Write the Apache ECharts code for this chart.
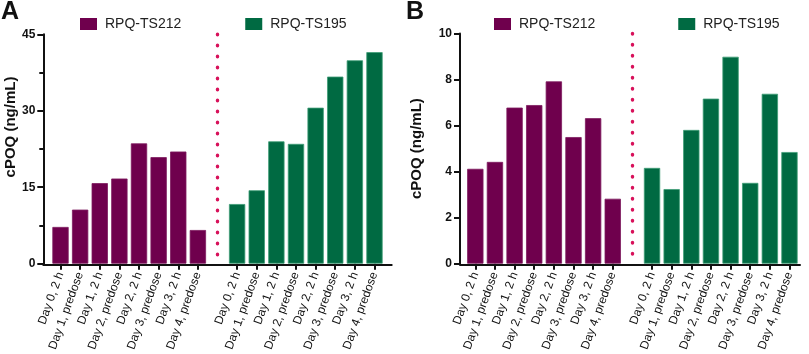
<!DOCTYPE html>
<html>
<head>
<meta charset="utf-8">
<script src="https://cdn.jsdelivr.net/npm/echarts@6/dist/echarts.min.js"></script>
<style>
html,body{margin:0;padding:0;background:#fff;}
#c{width:809px;height:354px;}
</style>
</head>
<body>
<div id="c"></div>
<script>
const categories = ['Day 0, 2 h','Day 1, predose','Day 1, 2 h','Day 2, predose','Day 2, 2 h','Day 3, predose','Day 3, 2 h','Day 4, predose'];
const seriesNames = ['RPQ-TS212','RPQ-TS195'];
const panelA_TS212 = [7.2, 10.6, 15.8, 16.7, 23.6, 20.9, 22.0, 6.6];
const panelA_TS195 = [11.7, 14.4, 24.0, 23.5, 30.6, 36.7, 39.9, 41.5];
const panelB_TS212 = [4.12, 4.42, 6.78, 6.89, 7.92, 5.50, 6.32, 2.82];
const panelB_TS195 = [4.16, 3.24, 5.81, 7.17, 8.99, 3.51, 7.38, 4.85];
const yMaxA = 45, yStepA = 15;
const yMaxB = 10, yStepB = 2;
const yTitle = 'cPOQ (ng/mL)';
const panelTitles = ['A','B'];

const PURPLE = '#6F004D', GREEN = '#006A42', DOT = '#D8115A';
const FONT = 'Liberation Sans, Arial, Helvetica, sans-serif';

// axis labels: 8 + gap + 8
const axisLabels = categories.concat([''], categories);
const axisKeys = axisLabels.map((_, i) => String(i));
const GAP = categories.length;
function padLeft(arr){ return arr.concat(new Array(categories.length + 1).fill(null)); }
function padRight(arr){ return new Array(categories.length + 1).fill(null).concat(arr); }

const chart = echarts.init(document.getElementById('c'), null, {renderer:'canvas'});

function catAxis(gridIndex){
  return {
    type:'category', gridIndex, data: axisKeys,
    axisLine:{show:false},
    axisTick:{show:true, alignWithLabel:true, length:6, interval:(i)=> i !== GAP,
      lineStyle:{color:'#111', width:2}},
    axisLabel:{interval:0, rotate:70, margin:9, fontSize:12, color:'#111', fontFamily:FONT,
      formatter:(v, i)=> axisLabels[i]}
  };
}
function valAxis(gridIndex, max, step, offset, nameGap, namePad, minor){
  return {
    type:'value', gridIndex, min:0, max, interval:step, offset,
    name: yTitle, nameLocation:'middle', nameGap,
    nameTextStyle:{fontSize:15, fontWeight:'bold', color:'#111', fontFamily:FONT, padding:namePad},
    axisLine:{show:true, lineStyle:{color:'#111', width:2}},
    axisTick:{show:true, length:6, lineStyle:{color:'#111', width:2}},
    minorTick: minor ? {show:true, splitNumber:2, length:4, lineStyle:{color:'#111', width:2}} : {show:false},
    splitLine:{show:false},
    axisLabel:{fontSize:12, fontWeight:'bold', color:'#111', margin:8, fontFamily:FONT}
  };
}
function lineX(gridIndex){
  return {type:'value', gridIndex, min:0, max:1, axisLine:{show:true, onZero:false, lineStyle:{color:'#111', width:2}},
    axisTick:{show:false}, axisLabel:{show:false}, splitLine:{show:false}};
}
function lineY(gridIndex){
  return {type:'value', gridIndex, min:0, max:1, show:false};
}
function dotLine(max){
  return {
    silent:true, symbol:['none','none'], label:{show:false},
    lineStyle:{color:DOT, width:3.4, type:[0.5, 10.5], cap:'round'},
    data:[[{coord:[GAP, max]}, {coord:[GAP, 0]}]]
  };
}
function bars(name, data, xi, color, border, ml){
  const s = {
    type:'bar', name, xAxisIndex:xi, yAxisIndex:xi, data, barWidth:16.3, barGap:'-100%',
    itemStyle:{color, borderColor:border, borderWidth:0.8},
    emphasis:{disabled:true}
  };
  if (ml) s.markLine = ml;
  return s;
}

const legendBase = {data:seriesNames, top:17, padding:0, itemWidth:17, itemHeight:12, icon:'rect',
  selectedMode:false, itemStyle:{borderWidth:0},
  textStyle:{fontSize:14, color:'#222', fontFamily:FONT, padding:[0,0,0,3]}};

const option = {
  animation:false,
  backgroundColor:'#fff',
  textStyle:{fontFamily:FONT},
  title:[
    {text:panelTitles[0], left:1, top:0, padding:0, textStyle:{fontSize:25, fontWeight:'bold', color:'#111', fontFamily:FONT}},
    {text:panelTitles[1], left:406, top:0, padding:0, textStyle:{fontSize:25, fontWeight:'bold', color:'#111', fontFamily:FONT}}
  ],
  legend:[
    Object.assign({}, legendBase, {left:80, itemGap:64}),
    Object.assign({}, legendBase, {left:494, itemGap:83})
  ],
  grid:[
    {left:50.7, width:333.6, top:34.3, bottom:89.7},
    {left:465.5, width:333.8, top:33.5, bottom:89.5},
    {left:43.3, width:348.4, top:34.3, bottom:89.7},
    {left:460, width:340, top:33.5, bottom:89.5}
  ],
  xAxis:[catAxis(0), catAxis(1), lineX(2), lineX(3)],
  yAxis:[
    valAxis(0, yMaxA, yStepA, 7.4, 23, [0,0,0,44], true),
    valAxis(1, yMaxB, yStepB, 5.5, 36, [0,0,0,0], false),
    lineY(2), lineY(3)
  ],
  series:[
    bars(seriesNames[0], padLeft(panelA_TS212), 0, PURPLE, '#7d1a5e', dotLine(yMaxA)),
    bars(seriesNames[1], padRight(panelA_TS195), 0, GREEN, '#3f9d76'),
    bars(seriesNames[0], padLeft(panelB_TS212), 1, PURPLE, '#7d1a5e', dotLine(yMaxB)),
    bars(seriesNames[1], padRight(panelB_TS195), 1, GREEN, '#3f9d76')
  ]
};
chart.setOption(option);
</script>
</body>
</html>
